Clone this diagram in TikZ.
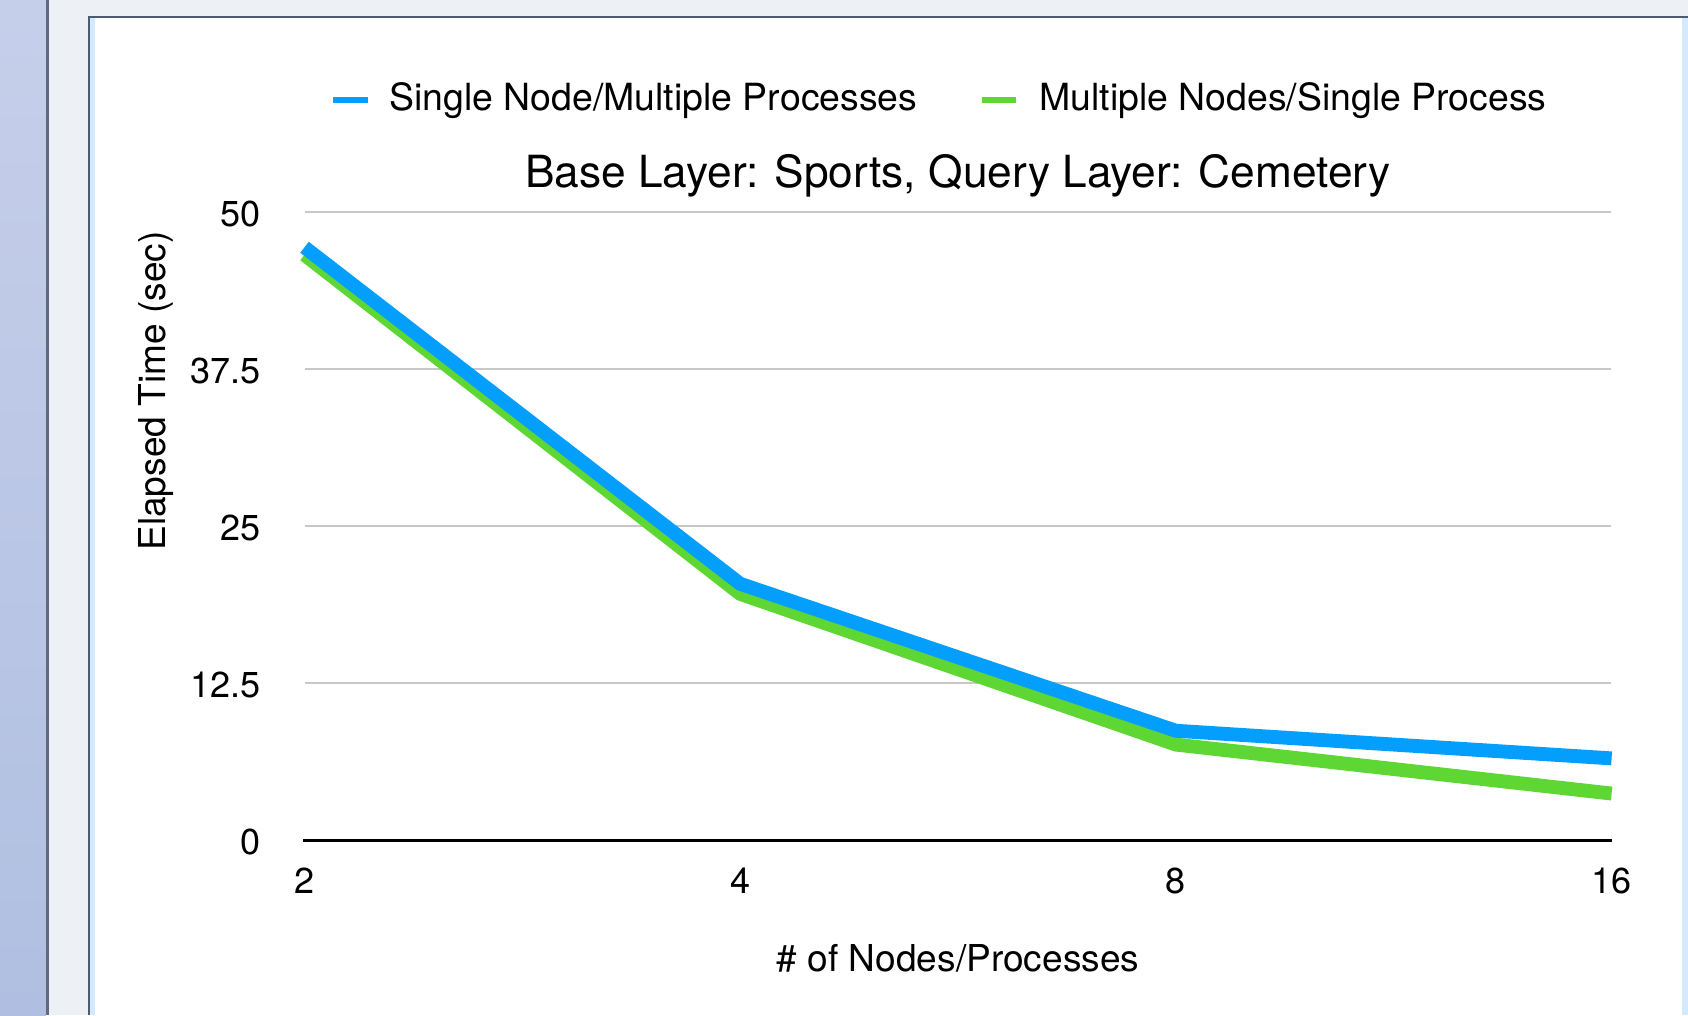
\documentclass[tikz,border=0pt]{standalone}
\usepackage{fontspec}
\setmainfont{TeX Gyre Heros}
\usetikzlibrary{positioning}
\definecolor{panelgray}{RGB}{237,240,245}
\definecolor{sidetop}{RGB}{198,207,234}
\definecolor{sidebottom}{RGB}{176,191,225}
\definecolor{divider}{RGB}{96,105,125}
\definecolor{framecol}{RGB}{78,90,110}
\definecolor{stripblue}{RGB}{212,233,252}
\definecolor{gridgray}{RGB}{200,200,200}
\definecolor{singlecol}{RGB}{4,159,252}
\definecolor{multicol}{RGB}{94,214,52}

\begin{document}
\begin{tikzpicture}[x=0.02cm, y=-0.02cm,
  tick/.style={inner sep=0pt, font=\fontsize{20.5}{24}\selectfont},
  legendtext/.style={inner sep=0pt, anchor=base west, font=\fontsize{21.3}{25}\selectfont},
  axislabel/.style={inner sep=0pt, anchor=base, font=\fontsize{21.1}{25}\selectfont},
  gridline/.style={draw=gridgray, line width=0.85pt},
  series/.style={line width=7.9pt},
  legendmark/.style={line width=3.4pt}]
 \useasboundingbox (0,0) rectangle (1688,1015);
 \fill[panelgray] (0,0) rectangle (1688,1015);
 \shade[top color=sidetop, bottom color=sidebottom] (0,0) rectangle (46,1015);
 \fill[divider] (46,0) rectangle (48.5,1015);
 \fill[white] (88,16) rectangle (1688,1015);
 \fill[stripblue] (90,18) rectangle (95,1015);
 \fill[stripblue] (1682,18) rectangle (1688,1015);
 \draw[framecol, line width=1.4pt] (89.2,1015) -- (89.2,16.8) -- (1688,16.8);

 \foreach \v in {12.5,25,37.5,50}
  \draw[gridline] (305,{840-12.56*\v}) -- (1611,{840-12.56*\v});
 \foreach \v [count=\i] in {0,12.5,25,37.5,50}
  \node[tick, anchor=east] (ytick\i) at (261,{842-12.56*\v}) {\v};
 \draw[line width=1.7pt] (303,840) coordinate (origin) -- (1612,840) coordinate (xend);
 \foreach \n [count=\i from 0] in {2,4,8,16}
  \node[tick] (xtick\n) at ({304.5+435.7*\i},881) {\n};

 \begin{scope}[shift={(0,840)}, y=0.2512cm]
  \draw[series, multicol] (304.5,46.6) coordinate (m2) -- (740.2,19.6) coordinate (m4)
   -- (1175.9,7.6) coordinate (m8) -- (1611.6,3.7) coordinate (m16);
  \draw[series, singlecol] (304.5,47.2) coordinate (s2) -- (740.2,20.4) coordinate (s4)
   -- (1175.9,8.7) coordinate (s8) -- (1611.6,6.5) coordinate (s16);
 \end{scope}

 \draw[legendmark, singlecol] (333,100) -- (368,100);
 \node[legendtext] (singleleg) at (389,110) {Single Node/Multiple Processes};
 \draw[legendmark, multicol] (982,100) -- (1016,100);
 \node[legendtext] (multileg) at (1039,110) {Multiple Nodes/Single Process};

 \node[axislabel, font=\fontsize{25.2}{30}\selectfont] (title) at (958,187) {Base Layer: Sports, Query Layer: Cemetery};
 \node[axislabel] (xlabel) at (958,971) {\# of Nodes/Processes};
 \node[axislabel, rotate=90] (ylabel) at (165,391) {Elapsed Time (sec)};
\end{tikzpicture}
\end{document}
